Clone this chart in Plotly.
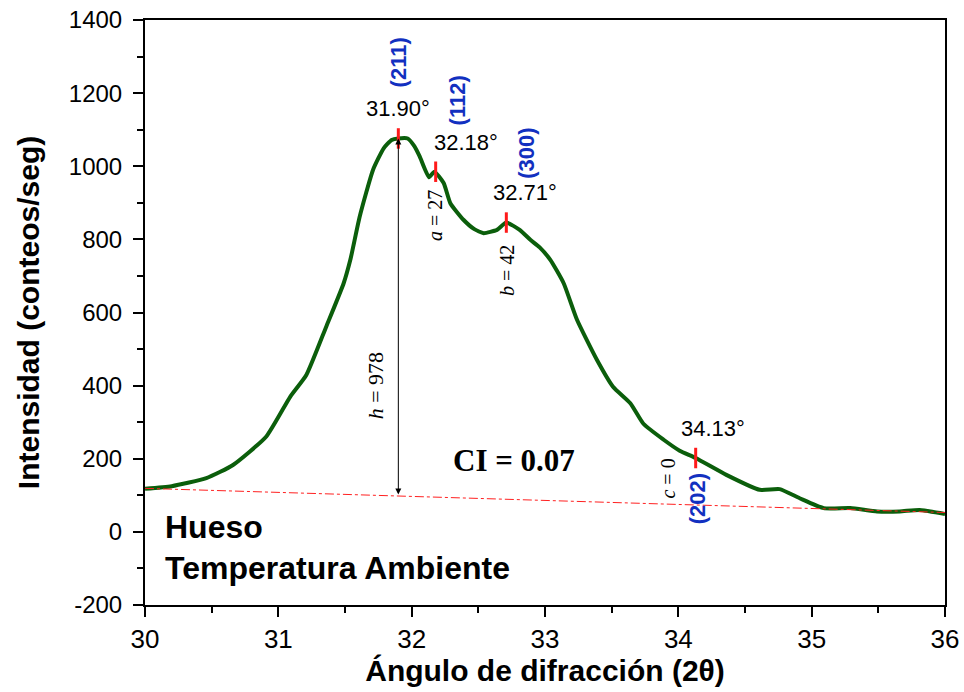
import plotly.graph_objects as go

# Diffractogram: 2-theta (degrees) vs intensity (counts/s)
two_theta = [30.00, 30.20, 30.46, 30.66, 30.91, 31.09, 31.21, 31.36, 31.49, 31.54,
             31.61, 31.71, 31.79, 31.85, 31.90, 31.97, 32.02, 32.06, 32.13, 32.17,
             32.24, 32.29, 32.39, 32.47, 32.54, 32.64, 32.71, 32.81, 32.89, 32.96,
             33.04, 33.14, 33.24, 33.39, 33.51, 33.64, 33.74, 33.89, 34.01, 34.13,
             34.36, 34.61, 34.76, 34.91, 35.09, 35.29, 35.49, 35.66, 35.81, 36.00]
intensity = [118, 125, 147, 183, 261, 370, 429, 562, 680, 744,
             862, 990, 1049, 1072, 1076, 1076, 1055, 1027, 970, 985,
             954, 899, 853, 828, 817, 826, 846, 826, 799, 778,
             744, 680, 580, 470, 397, 352, 295, 252, 222, 202,
             156, 115, 117, 92, 65, 65, 56, 56, 60, 49]

# Straight background line under the pattern
baseline_x = [30.0, 36.0]
baseline_y = [119, 53]

# Reflections: position, intensity, Miller indices
peak_pos = [31.90, 32.18, 32.71, 34.13]
peak_int = [1076, 985, 846, 202]
peak_hkl = ["(211)", "(112)", "(300)", "(202)"]
peak_lbl = ["31.90°", "32.18°", "32.71°", "34.13°"]

# Crystallinity index measures
h_value = 978
h_base = 98
ci_value = 0.07
measure_lbl = ["<i>a</i> = 27", "<i>b</i> = 42", "<i>c</i> = 0"]

# Axis ticks
x_ticks = [30, 31, 32, 33, 34, 35, 36]
y_ticks = [-200, 0, 200, 400, 600, 800, 1000, 1200, 1400]
y_ticktext = ["-200", "0", "200", "400", "600", "800", "1000", "1200", "1400"]

fig = go.Figure()
fig.add_trace(go.Scatter(x=two_theta, y=intensity, mode="lines",
                         line=dict(color="#0b5e0b", width=4, shape="spline", smoothing=0.5),
                         showlegend=False, hoverinfo="skip"))
fig.add_trace(go.Scatter(x=baseline_x, y=baseline_y, mode="lines",
                         line=dict(color="#ff2020", width=1, dash="dashdot"),
                         showlegend=False, hoverinfo="skip"))

# Red markers across the curve at each reflection
half = 28
for px, pi in zip(peak_pos, peak_int):
    fig.add_shape(type="line", x0=px, x1=px, y0=pi - half, y1=pi + half,
                  xref="x", yref="y", line=dict(color="#ff1a1a", width=3))

# Angle labels
angle_shift = [0, 30, 19, 17]
for px, pi, txt, dx in zip(peak_pos, peak_int, peak_lbl, angle_shift):
    fig.add_annotation(x=px, y=pi + half, text=txt, showarrow=False,
                       xanchor="center", yanchor="bottom", xshift=dx, yshift=5,
                       font=dict(family="Liberation Sans, Arial", size=22, color="black"))

# Miller indices, rotated
hkl_xy = [(31.90, 1285), (32.34, 1180), (32.86, 1035), (34.15, 90)]
for (hx, hy), txt in zip(hkl_xy, peak_hkl):
    fig.add_annotation(x=hx, y=hy, text="<b>%s</b>" % txt, showarrow=False,
                       textangle=-90, xanchor="center", yanchor="middle",
                       font=dict(family="Liberation Sans, Arial", size=22, color="#1230c0"))

# a, b, c measures (rotated, serif)
meas_xy = [(32.17, 865), (32.72, 715), (33.92, 145)]
for (mx, my), txt in zip(meas_xy, measure_lbl):
    fig.add_annotation(x=mx, y=my, text=txt, showarrow=False, textangle=-90,
                       xanchor="center", yanchor="middle",
                       font=dict(family="Liberation Serif, Times New Roman", size=20, color="black"))

# Peak height arrow
fig.add_annotation(x=peak_pos[0], y=peak_int[0], ax=peak_pos[0], ay=h_base,
                   xref="x", yref="y", axref="x", ayref="y", text="",
                   showarrow=True, arrowhead=2, startarrowhead=2, arrowside="end+start",
                   arrowwidth=1, arrowsize=1.2, arrowcolor="black")
fig.add_annotation(x=31.73, y=400, text="<i>h</i> = %d" % h_value, showarrow=False,
                   textangle=-90, xanchor="center", yanchor="middle",
                   font=dict(family="Liberation Serif, Times New Roman", size=22, color="black"))

fig.add_annotation(x=32.77, y=195, text="<b>CI = %.2f</b>" % ci_value, showarrow=False,
                   xanchor="center", yanchor="middle",
                   font=dict(family="Liberation Serif, Times New Roman", size=31, color="black"))

# Sample description
fig.add_annotation(x=0.022, y=0.133, xref="paper", yref="paper", text="<b>Hueso</b>",
                   showarrow=False, xanchor="left", yanchor="middle",
                   font=dict(family="Liberation Sans, Arial", size=32, color="black"))
fig.add_annotation(x=0.022, y=0.063, xref="paper", yref="paper",
                   text="<b>Temperatura Ambiente</b>", showarrow=False,
                   xanchor="left", yanchor="middle",
                   font=dict(family="Liberation Sans, Arial", size=32, color="black"))

axis_common = dict(showline=True, linecolor="black", linewidth=2, mirror=True,
                   ticks="outside", tickwidth=2, ticklen=10, tickcolor="black",
                   showgrid=False, zeroline=False, automargin=False)

fig.update_xaxes(range=[30, 36], tickmode="array", tickvals=x_ticks,
                 minor=dict(dtick=0.5, ticks="outside", ticklen=6, tickwidth=2, tickcolor="black"),
                 tickfont=dict(family="Liberation Sans, Arial", size=26, color="black"),
                 title=dict(text="<b>Ángulo de difracción (2θ)</b>", standoff=4,
                            font=dict(family="Liberation Sans, Arial", size=30, color="black")),
                 **axis_common)
fig.update_yaxes(range=[-200, 1400], tickmode="array", tickvals=y_ticks, ticktext=y_ticktext,
                 ticklabelstandoff=6,
                 minor=dict(dtick=100, ticks="outside", ticklen=6, tickwidth=2, tickcolor="black"),
                 tickfont=dict(family="Liberation Sans, Arial", size=24, color="black"),
                 title=dict(text="<b>Intensidad (conteos/seg)</b>", standoff=20,
                            font=dict(family="Liberation Sans, Arial", size=30, color="black")),
                 **axis_common)

fig.update_layout(width=964, height=692, plot_bgcolor="white", paper_bgcolor="white",
                  margin=dict(l=145, r=19, t=20, b=87))

fig.write_html("out.html")
